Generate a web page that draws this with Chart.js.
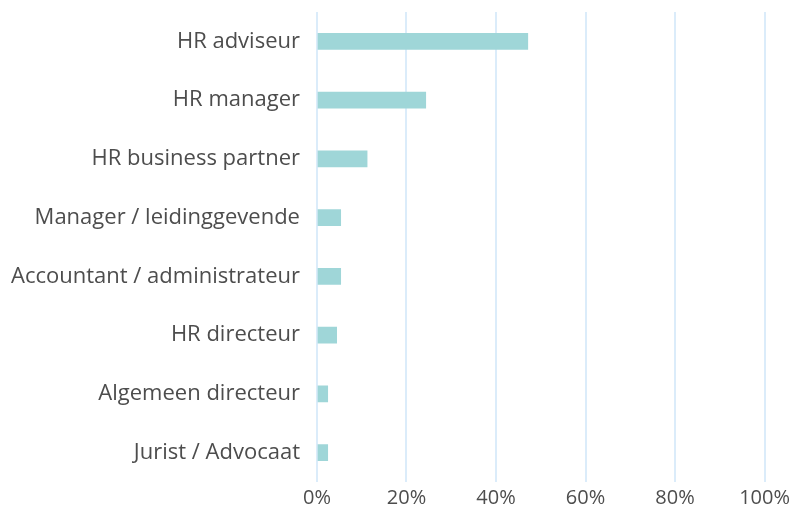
<!DOCTYPE html>
<html>
<head>
<meta charset="utf-8">
<script src="https://cdn.jsdelivr.net/npm/chart.js@4/dist/chart.umd.min.js"></script>
<style>
  html, body { margin: 0; padding: 0; background: #fff; }
  #wrap { width: 794px; height: 521px; }
</style>
</head>
<body>
<div id="wrap"><canvas id="functieChart"></canvas></div>
<script>
const categories = [
    'HR adviseur',
    'HR manager',
    'HR business partner',
    'Manager / leidinggevende',
    'Accountant / administrateur',
    'HR directeur',
    'Algemeen directeur',
    'Jurist / Advocaat'
];
const percentages = [47.1, 24.3, 11.2, 5.3, 5.3, 4.4, 2.4, 2.4];
const tickValues = [0, 20, 40, 60, 80, 100];

document.addEventListener('DOMContentLoaded', function() {
    const ctx = document.getElementById('functieChart').getContext('2d');
    new Chart(ctx, {
        type: 'bar',
        data: {
            labels: categories,
            datasets: [{
                data: percentages,
                backgroundColor: '#9fd6d8',
                barThickness: 16
            }]
        },
        options: {
            indexAxis: 'y',
            responsive: true,
            maintainAspectRatio: false,
            animation: false,
            layout: { padding: { top: 12, right: 0, left: 2, bottom: 7 } },
            plugins: {
                legend: { display: false },
                tooltip: { enabled: false }
            },
            scales: {
                x: {
                    min: 0,
                    max: 100,
                    afterBuildTicks: function(axis) {
                        axis.ticks = tickValues.map(v => ({ value: v }));
                    },
                    border: { display: false },
                    grid: { color: '#dbecfa', lineWidth: 2, drawTicks: false },
                    ticks: {
                        color: '#4d4d4d',
                        padding: 4,
                        font: { family: 'Open Sans', size: 20 },
                        callback: v => v + '%'
                    }
                },
                y: {
                    border: { display: false },
                    grid: { display: false, tickLength: 8 },
                    ticks: {
                        color: '#4d4d4d',
                        padding: 9,
                        // small lineHeight keeps the top padding of the plot tight
                        font: { family: 'Open Sans', size: 22, lineHeight: 0.1 }
                    }
                }
            }
        }
    });
});
</script>
</body>
</html>
